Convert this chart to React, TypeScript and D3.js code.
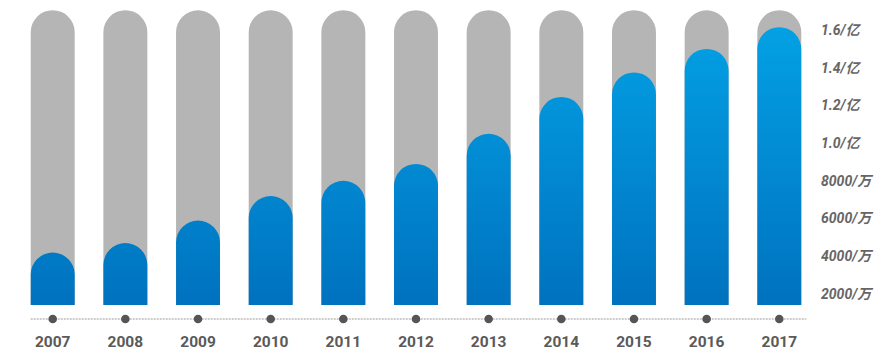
import * as d3 from 'd3';
import React, {useRef, useEffect} from 'react';

const years = ["2007", "2008", "2009", "2010", "2011", "2012", "2013", "2014", "2015", "2016", "2017"];
// values in 万
const values = [4200, 4700, 5900, 7200, 8000, 8900, 10500, 12450, 13750, 15000, 16150];
const maxValue = 17050;
const tickValues = [2000, 4000, 6000, 8000, 10000, 12000, 14000, 16000];
const tickLabels = ["2000/万", "4000/万", "6000/万", "8000/万", "1.0/亿", "1.2/亿", "1.4/亿", "1.6/亿"];

const width = 886;
const height = 360;

export default function App() {
  const ref = useRef<SVGSVGElement>(null);

  useEffect(() => {
    const svg = d3.select(ref.current);
    svg.selectAll("*").remove();

    const x = d3.scaleBand().domain(years).range([16.2, 815.8]).paddingInner(0.395).paddingOuter(0.2);
    const y = d3.scaleLinear().domain([0, 16000]).range([331.7, 30]);
    const bottom = 305;
    const bw = x.bandwidth();
    const r = bw / 2;

    const defs = svg.append("defs");
    const grad = defs.append("linearGradient")
      .attr("id", "blueGrad")
      .attr("gradientUnits", "userSpaceOnUse")
      .attr("x1", 0).attr("y1", y(16000)).attr("x2", 0).attr("y2", bottom);
    grad.append("stop").attr("offset", "0%").attr("stop-color", "#03a0e4");
    grad.append("stop").attr("offset", "100%").attr("stop-color", "#0072bf");

    const capPath = (x0: number, top: number) =>
      `M${x0},${bottom}L${x0},${top + r}A${r},${r} 0 0 1 ${x0 + bw},${top + r}L${x0 + bw},${bottom}Z`;

    // gray background bars
    svg.append("g")
      .selectAll("path")
      .data(years)
      .enter()
      .append("path")
      .attr("d", d => capPath(x(d)!, y(maxValue)))
      .attr("fill", "#b5b5b5");

    // blue value bars
    svg.append("g")
      .selectAll("path")
      .data(values)
      .enter()
      .append("path")
      .attr("d", (d, i) => capPath(x(years[i])!, y(d)))
      .attr("fill", "url(#blueGrad)");

    // dotted baseline
    const axisY = 319;
    svg.append("line")
      .attr("x1", x(years[0])!)
      .attr("x2", x(years[years.length - 1])! + bw + 5)
      .attr("y1", axisY)
      .attr("y2", axisY)
      .attr("stroke", "#9a9a9a")
      .attr("stroke-width", 1)
      .attr("stroke-dasharray", "2,1");

    svg.append("g")
      .selectAll("circle")
      .data(years)
      .enter()
      .append("circle")
      .attr("cx", d => x(d)! + r)
      .attr("cy", axisY)
      .attr("r", 4.3)
      .attr("fill", "#555");

    svg.append("g")
      .selectAll("text")
      .data(years)
      .enter()
      .append("text")
      .attr("x", d => x(d)! + r)
      .attr("y", 346.5)
      .attr("text-anchor", "middle")
      .attr("font-family", "Roboto, 'Noto Sans CJK SC', sans-serif")
      .attr("font-size", 15.5)
      .attr("font-weight", "bold")
      .attr("fill", "#5a5a5a")
      .text(d => d);

    // right side value labels
    svg.append("g")
      .selectAll("text")
      .data(tickValues)
      .enter()
      .append("text")
      .attr("x", 821)
      .attr("y", d => y(d))
      .attr("dy", "0.35em")
      .attr("font-family", "Roboto, 'Noto Sans CJK SC', sans-serif")
      .attr("font-size", 14)
      .attr("font-style", "italic")
      .attr("font-weight", "bold")
      .attr("fill", "#666")
      .text((d, i) => tickLabels[i]);
  }, []);

  return (
    <div style={{position: "absolute", left: 0, top: 0}}>
      <svg ref={ref} width={width} height={height} style={{display: "block", background: "#fff"}}>
      </svg>
    </div>
  );
}
